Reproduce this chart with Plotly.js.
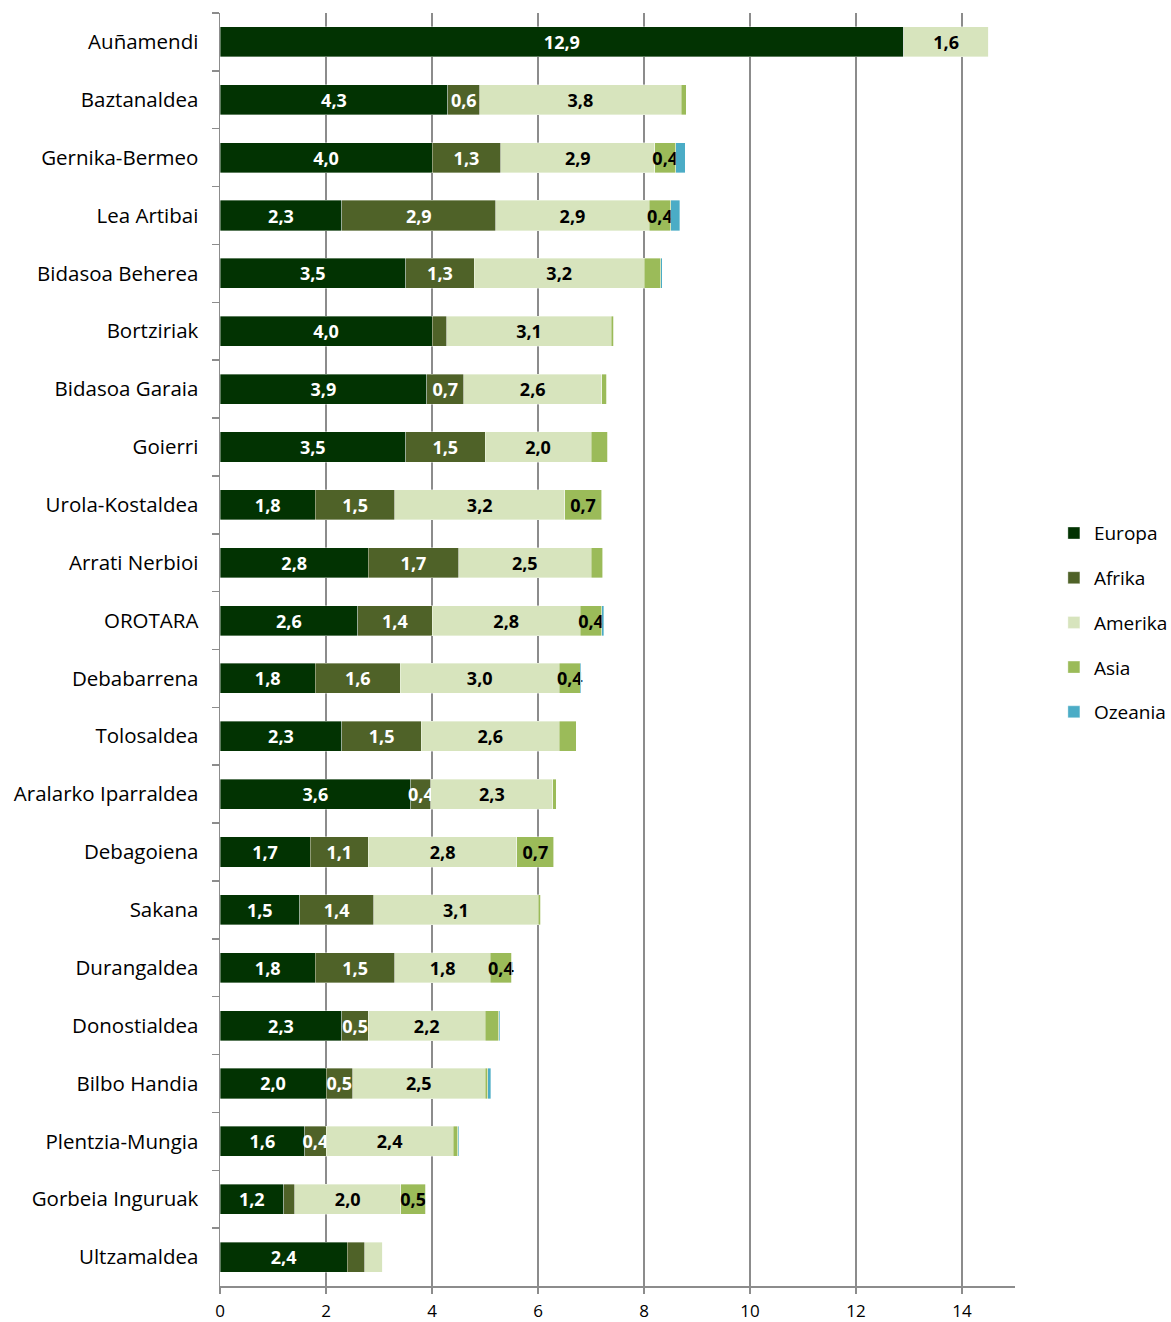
<!DOCTYPE html>
<html>
<head>
<meta charset="utf-8">
<script src="https://cdn.plot.ly/plotly-3.0.1.min.js"></script>
<style>html,body{margin:0;padding:0;background:#fff;}#chart{width:1171px;height:1322px;}</style>
</head>
<body>
<div id="chart"></div>
<script>
const categories = ['Auñamendi','Baztanaldea','Gernika-Bermeo','Lea Artibai','Bidasoa Beherea','Bortziriak','Bidasoa Garaia','Goierri','Urola-Kostaldea','Arrati Nerbioi','OROTARA','Debabarrena','Tolosaldea','Aralarko Iparraldea','Debagoiena','Sakana','Durangaldea','Donostialdea','Bilbo Handia','Plentzia-Mungia','Gorbeia Inguruak','Ultzamaldea'];
const europa  = [12.9, 4.3, 4.0, 2.3, 3.5, 4.0, 3.9, 3.5, 1.8, 2.8, 2.6, 1.8, 2.3, 3.6, 1.7, 1.5, 1.8, 2.3, 2.0, 1.6, 1.2, 2.4];
const afrika  = [0, 0.6, 1.3, 2.9, 1.3, 0.28, 0.7, 1.5, 1.5, 1.7, 1.4, 1.6, 1.5, 0.38, 1.1, 1.4, 1.5, 0.5, 0.5, 0.4, 0.21, 0.33];
const amerika = [1.6, 3.8, 2.9, 2.9, 3.2, 3.1, 2.6, 2.0, 3.2, 2.5, 2.8, 3.0, 2.6, 2.3, 2.8, 3.1, 1.8, 2.2, 2.5, 2.4, 2.0, 0.34];
const asia    = [0, 0.1, 0.4, 0.4, 0.32, 0.05, 0.1, 0.32, 0.7, 0.22, 0.4, 0.4, 0.32, 0.06, 0.7, 0.05, 0.4, 0.26, 0.05, 0.09, 0.47, 0];
const ozeania = [0, 0, 0.18, 0.17, 0.02, 0, 0, 0, 0.01, 0.01, 0.04, 0.02, 0, 0, 0.01, 0, 0, 0.02, 0.06, 0.01, 0, 0];
const xTicks = [0, 2, 4, 6, 8, 10, 12, 14];

const FONT = '"Open Sans", "Noto Sans", sans-serif';
function labels(vals, show) {
  return vals.map(v => (show && v >= 0.35) ? v.toFixed(1).replace('.', ',') : '');
}
function mk(name, vals, color, textColor, show) {
  return {
    type: 'bar', orientation: 'h', name: name, legendgroup: name,
    y: categories, x: vals,
    marker: {color: color, line: {color: 'rgba(255,255,255,0.6)', width: 0.6}},
    text: labels(vals, show),
    textposition: 'inside', insidetextanchor: 'middle', textangle: 0,
    constraintext: 'none', cliponaxis: false,
    textfont: {family: FONT, size: 18, color: textColor, weight: 'bold'},
    hoverinfo: 'skip'
  };
}
const data = [
  mk('Europa', europa, '#023302', '#ffffff', true),
  mk('Afrika', afrika, '#4f6228', '#ffffff', true),
  mk('Amerika', amerika, '#d7e4bd', '#000000', true),
  mk('Asia', asia, '#9bbb59', '#000000', true),
  mk('Ozeania', ozeania, '#4bacc6', '#000000', false)
];
const layout = {
  width: 1171, height: 1322,
  margin: {l: 220, r: 156, t: 13, b: 36, autoexpand: false},
  paper_bgcolor: '#ffffff', plot_bgcolor: '#ffffff',
  barmode: 'stack', bargap: 0.48,
  font: {family: FONT, color: '#000000'},
  uniformtext: {mode: 'show', minsize: 18},
  showlegend: true,
  legend: {xref: 'container', yref: 'container', x: 0.9, y: 0.529, xanchor: 'left', yanchor: 'middle',
           traceorder: 'grouped', bgcolor: 'rgba(0,0,0,0)',
           font: {family: FONT, size: 19, color: '#000'}, tracegroupgap: 17, itemwidth: 30},
  xaxis: {range: [0, 15], tickvals: xTicks, ticktext: xTicks.map(String),
          showgrid: true, gridcolor: '#8c8c8c', gridwidth: 1.5,
          showline: true, linecolor: '#8c8c8c', linewidth: 1.5,
          ticks: 'outside', ticklen: 6, tickcolor: '#8c8c8c', tickwidth: 1.5,
          ticklabelstandoff: 3,
          tickfont: {family: FONT, size: 17, color: '#000'}, zeroline: false, fixedrange: true},
  yaxis: {autorange: 'reversed', type: 'category',
          showline: true, linecolor: '#8c8c8c', linewidth: 1.5,
          ticks: 'outside', tickson: 'boundaries', ticklen: 7, tickcolor: '#8c8c8c', tickwidth: 1.5,
          ticklabelstandoff: 16,
          tickfont: {family: FONT, size: 20.5, color: '#000'}, showgrid: false, fixedrange: true}
};
Plotly.newPlot('chart', data, layout, {staticPlot: true, displayModeBar: false});
</script>
</body>
</html>
